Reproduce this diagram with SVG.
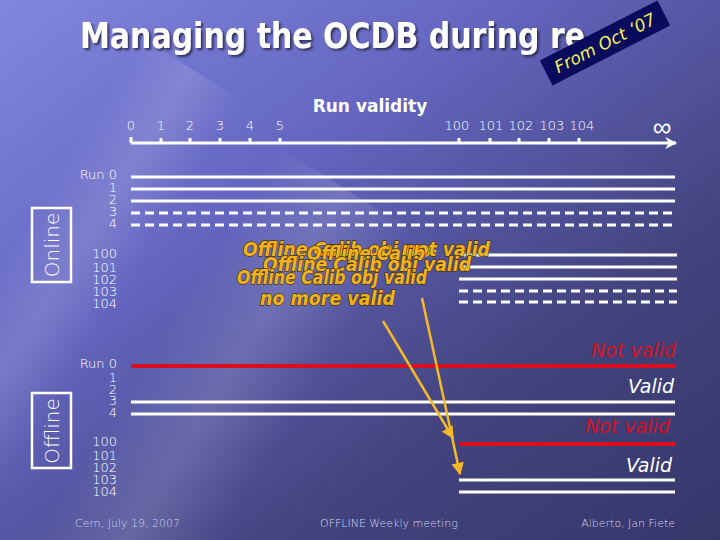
<svg xmlns="http://www.w3.org/2000/svg" width="720" height="540" viewBox="0 0 720 540">
<defs>
  <linearGradient id="bg" x1="0" y1="0" x2="1" y2="1">
    <stop offset="0" stop-color="#8286DE"/>
    <stop offset="0.35" stop-color="#6466C0"/>
    <stop offset="0.7" stop-color="#43447E"/>
    <stop offset="1" stop-color="#35366A"/>
  </linearGradient>
  <linearGradient id="streak" x1="0" y1="0" x2="1" y2="0">
    <stop offset="0" stop-color="#ffffff" stop-opacity="0"/>
    <stop offset="0.5" stop-color="#ffffff" stop-opacity="0.13"/>
    <stop offset="1" stop-color="#ffffff" stop-opacity="0"/>
  </linearGradient>
  <linearGradient id="hline" x1="0" y1="0" x2="1" y2="0">
    <stop offset="0" stop-color="#4A4EB8"/>
    <stop offset="0.4" stop-color="#9A9CE0"/>
    <stop offset="1" stop-color="#FFFFFF"/>
  </linearGradient>
  <linearGradient id="vline" x1="0" y1="0" x2="0" y2="1">
    <stop offset="0" stop-color="#5A5CC4"/>
    <stop offset="0.35" stop-color="#C8CAF2"/>
    <stop offset="1" stop-color="#FFFFFF"/>
  </linearGradient>
  <filter id="shadow" x="-5%" y="-20%" width="110%" height="150%">
    <feDropShadow dx="2" dy="2" stdDeviation="1" flood-color="#202040" flood-opacity="0.8"/>
  </filter>
  <marker id="axisArrow" viewBox="0 0 10 10" refX="9" refY="5" markerWidth="4" markerHeight="4" orient="auto" markerUnits="strokeWidth">
    <path d="M0,0 L10,5 L0,10 L3,5 Z" fill="#FFFFFF"/>
  </marker>
  <marker id="yArrow" viewBox="0 0 10 10" refX="9" refY="5" markerWidth="5" markerHeight="5" orient="auto" markerUnits="strokeWidth">
    <path d="M0,0 L10,5 L0,10 Z" fill="#F5B82A"/>
  </marker>
  <style>
    .lbl { font-family: "DejaVu Sans", "Liberation Sans", sans-serif; font-weight: 200; fill: #FFFFFF; font-size: 13px; }
    .rlbl { text-anchor: end; }
    .tick { text-anchor: middle; }
    .wl { stroke: #FFFFFF; stroke-width: 3; fill: none; }
    .dash { stroke-dasharray: 9 5; }
    .rl { stroke: #D8101E; stroke-width: 4; fill: none; }
    .box { fill: none; stroke: #FFFFFF; stroke-width: 2.5; }
    .boxt { font-family: "DejaVu Sans", sans-serif; font-weight: 200; fill: #FFFFFF; font-size: 20px; text-anchor: middle; }
    .yel { font-family: "DejaVu Sans", "Liberation Sans", sans-serif; font-weight: bold; font-style: oblique; font-size: 19px; fill: #F2B21E; stroke: #4A3808; stroke-width: 1.4; paint-order: stroke; }
    .ya { stroke: #F5B82A; stroke-width: 2.5; fill: none; }
    .state { font-family: "DejaVu Sans", "Liberation Sans", sans-serif; font-style: oblique; font-size: 19px; text-anchor: end; }
    .foot { font-family: "DejaVu Sans", sans-serif; font-weight: 200; font-size: 11px; fill: #D0D2F0; }
  </style>
</defs>

<!-- background -->
<rect x="0" y="0" width="720" height="540" fill="url(#bg)"/>
<rect x="-100" y="-60" width="160" height="760" fill="url(#streak)" transform="translate(330,250) rotate(32)"/>
<rect x="-60" y="-60" width="120" height="760" fill="url(#streak)" transform="translate(160,120) rotate(32)"/>

<!-- title -->
<g id="title">
  <text x="80" y="48" font-family="DejaVu Sans, Verdana, sans-serif" font-weight="bold" font-size="36" fill="#FFFFFF" textLength="505" lengthAdjust="spacingAndGlyphs" filter="url(#shadow)">Managing the OCDB during re</text>
</g>
<line x1="60" y1="86" x2="720" y2="86" stroke="url(#hline)" stroke-width="3"/>
<line x1="33" y1="86" x2="33" y2="540" stroke="url(#vline)" stroke-width="3"/>

<g id="badge" transform="translate(605,43) rotate(-27)">
  <rect x="-66" y="-14" width="132" height="28" fill="#0B0B5E"/>
  <text x="0" y="6" font-family="DejaVu Sans, sans-serif" font-style="oblique" font-size="17" fill="#F2F25A" text-anchor="middle">From Oct ‘07</text>
</g>

<!-- axis -->
<g id="axis">
  <text x="370" y="112" font-family="DejaVu Sans, Verdana, sans-serif" font-weight="bold" font-size="17" fill="#FFFFFF" text-anchor="middle">Run validity</text>
  <line x1="131" y1="143" x2="676" y2="143" stroke="#FFFFFF" stroke-width="3" marker-end="url(#axisArrow)"/>
  <path d="M131,137 V143 M161,138 V143 M190,138 V143 M220,138 V143 M250,138 V143 M280,138 V143 M459,138 V143 M490,138 V143 M519,138 V143 M549,138 V143 M579,138 V143" stroke="#FFFFFF" stroke-width="3"/>
  <text class="lbl tick" x="131" y="130">0</text>
  <text class="lbl tick" x="161" y="130">1</text>
  <text class="lbl tick" x="190" y="130">2</text>
  <text class="lbl tick" x="220" y="130">3</text>
  <text class="lbl tick" x="250" y="130">4</text>
  <text class="lbl tick" x="280" y="130">5</text>
  <text class="lbl tick" x="457" y="130">100</text>
  <text class="lbl tick" x="491" y="130">101</text>
  <text class="lbl tick" x="521" y="130">102</text>
  <text class="lbl tick" x="552" y="130">103</text>
  <text class="lbl tick" x="582" y="130">104</text>
  <text class="tick" x="662" y="136" font-family="DejaVu Sans, sans-serif" font-weight="200" font-size="26" fill="#FFFFFF">∞</text>
</g>

<!-- Online section -->
<g id="online">
  <rect class="box" x="32" y="208" width="39" height="74"/>
  <text class="boxt" transform="translate(59,245) rotate(-90)">Online</text>
  <text class="lbl rlbl" x="117" y="179">Run 0</text>
  <text class="lbl rlbl" x="117" y="192">1</text>
  <text class="lbl rlbl" x="117" y="204">2</text>
  <text class="lbl rlbl" x="117" y="216">3</text>
  <text class="lbl rlbl" x="117" y="228">4</text>
  <text class="lbl rlbl" x="117" y="258">100</text>
  <text class="lbl rlbl" x="117" y="272">101</text>
  <text class="lbl rlbl" x="117" y="284">102</text>
  <text class="lbl rlbl" x="117" y="296">103</text>
  <text class="lbl rlbl" x="117" y="308">104</text>
</g>

<!-- Offline section -->
<g id="offline">
  <rect class="box" x="32" y="393" width="39" height="75"/>
  <text class="boxt" transform="translate(59,431) rotate(-90)">Offline</text>
  <text class="lbl rlbl" x="117" y="368">Run 0</text>
  <text class="lbl rlbl" x="117" y="382">1</text>
  <text class="lbl rlbl" x="117" y="394">2</text>
  <text class="lbl rlbl" x="117" y="405">3</text>
  <text class="lbl rlbl" x="117" y="417">4</text>
  <text class="lbl rlbl" x="117" y="446">100</text>
  <text class="lbl rlbl" x="117" y="460">101</text>
  <text class="lbl rlbl" x="117" y="472">102</text>
  <text class="lbl rlbl" x="117" y="484">103</text>
  <text class="lbl rlbl" x="117" y="496">104</text>
</g>

<!-- validity lines -->
<g id="connectors">
  <line class="wl" x1="131" y1="177" x2="675" y2="177"/>
  <line class="wl" x1="131" y1="189" x2="675" y2="189"/>
  <line class="wl" x1="131" y1="201" x2="148" y2="201" stroke-width="2"/>
  <line class="wl" x1="148" y1="201" x2="675" y2="201"/>
  <line class="wl dash" x1="131" y1="213" x2="675" y2="213"/>
  <line class="wl dash" x1="131" y1="225" x2="675" y2="225"/>

  <line class="wl" x1="459" y1="255" x2="677" y2="255"/>
  <line class="wl" x1="459" y1="267" x2="677" y2="267"/>
  <line class="wl" x1="459" y1="279" x2="677" y2="279"/>
  <line class="wl dash" x1="459" y1="291" x2="677" y2="291"/>
  <line class="wl dash" x1="459" y1="302" x2="677" y2="302"/>

  <line class="rl" x1="131" y1="366" x2="675" y2="366"/>
  <line class="wl" x1="131" y1="402" x2="675" y2="402"/>
  <line class="wl" x1="131" y1="414" x2="675" y2="414"/>
  <line class="rl" x1="460" y1="444" x2="675" y2="444"/>
  <line class="wl" x1="459" y1="480" x2="675" y2="480"/>
  <line class="wl" x1="459" y1="492" x2="675" y2="492"/>

  <line class="ya" x1="383" y1="321" x2="453" y2="438" marker-end="url(#yArrow)"/>
  <line class="ya" x1="422" y1="298" x2="460" y2="474" marker-end="url(#yArrow)"/>
  <line class="ya" x1="424" y1="251" x2="436" y2="251" marker-end="url(#yArrow)"/>
</g>

<!-- overlapping calibration notes -->
<g id="notes">
  <text class="yel" x="243" y="256" textLength="247" lengthAdjust="spacingAndGlyphs">Offline Calib obj not valid</text>
  <text class="yel" x="307" y="260" textLength="118" lengthAdjust="spacingAndGlyphs">Offline Calib</text>
  <text class="yel" x="263" y="271" textLength="208" lengthAdjust="spacingAndGlyphs">Offline Calib obj valid</text>
  <text class="yel" x="237" y="284" textLength="190" lengthAdjust="spacingAndGlyphs">Offline Calib obj valid</text>
  <text class="yel" x="260" y="305" textLength="135" lengthAdjust="spacingAndGlyphs">no more valid</text>
</g>

<!-- state labels -->
<g id="states">
  <text class="state" x="676" y="357" fill="#D8101E">Not valid</text>
  <text class="state" x="674" y="393" fill="#FFFFFF">Valid</text>
  <text class="state" x="670" y="433" fill="#D8101E">Not valid</text>
  <text class="state" x="672" y="472" fill="#FFFFFF">Valid</text>
</g>

<!-- footer -->
<g id="footer">
  <text class="foot" x="75" y="527">Cern, July 19, 2007</text>
  <text class="foot" x="320" y="527">OFFLINE Weekly meeting</text>
  <text class="foot" x="675" y="527" text-anchor="end">Alberto, Jan Fiete</text>
</g>
</svg>
